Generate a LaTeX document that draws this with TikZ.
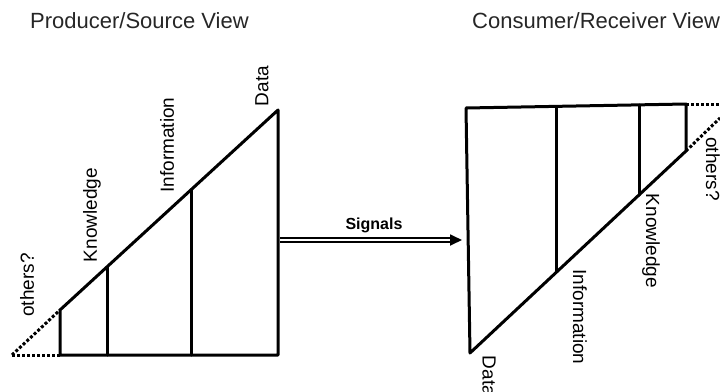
\documentclass[tikz,border=0pt]{standalone}
\usepackage{fontspec}
\setmainfont{Liberation Sans}
\usetikzlibrary{arrows.meta}
\begin{document}
\begin{tikzpicture}[x=1pt,y=-1pt,
  edge/.style={line width=3pt,line cap=round,line join=round},
  dots/.style={line width=3pt,dash pattern=on 3pt off 2pt},
  lbl/.style={inner sep=0pt,font=\fontsize{19}{21}\selectfont},
  ttl/.style={inner sep=0pt,anchor=west,text=black!85,font=\fontsize{22}{24}\selectfont}]
\useasboundingbox (0,0) rectangle (720,391);
\clip (0,0) rectangle (720,391);
% titles
\node[ttl] (t1) at (30,20.5) {Producer/Source View};
\node[ttl] (t2) at (472,20.5) {Consumer/Receiver View};
% left figure
\coordinate (lo) at (12,355);
\coordinate (lbl) at (60,355);
\coordinate (ltl) at (60,310);
\coordinate (lk) at (107,267);
\coordinate (lkb) at (107,355);
\coordinate (li) at (191,190);
\coordinate (lib) at (191,355);
\coordinate (ltr) at (278,110);
\coordinate (lbr) at (278,355);
\draw[edge] (lbl) -- (ltl) -- (ltr) -- (lbr) -- cycle;
\draw[edge] (lk) -- (lkb);
\draw[edge] (li) -- (lib);
\draw[dots] (lo) -- (lbl);
\draw[dots] (lo) -- (ltl);
% left labels
\node[lbl,rotate=90] (lo1) at (27,285) {others?};
\node[lbl,rotate=90] (lk1) at (92,215) {Knowledge};
\node[lbl,rotate=90] (li1) at (167,145) {Information};
\node[lbl,rotate=90] (ld1) at (262,86) {Data};
% right figure
\coordinate (rtl) at (466,108);
\coordinate (rbl) at (470,353);
\coordinate (rtr) at (686,104);
\coordinate (rbr) at (686,151);
\coordinate (ri) at (556,106.5);
\coordinate (rib) at (556,272);
\coordinate (rk) at (639,105);
\coordinate (rkb) at (639,195);
\coordinate (ro1) at (720,104);
\coordinate (ro2) at (720,118);
\draw[edge] (rtl) -- (rtr) -- (rbr) -- (rbl) -- cycle;
\draw[edge] (ri) -- (rib);
\draw[edge] (rk) -- (rkb);
\draw[dots] (rtr) -- (ro1);
\draw[dots] (rbr) -- (ro2);
% right labels
\node[lbl,rotate=-90] (ro3) at (713,169) {others?};
\node[lbl,rotate=-90] (rk1) at (651,241) {Knowledge};
\node[lbl,rotate=-90] (ri1) at (580,317) {Information};
\node[lbl,rotate=-90] (rd1) at (489,376) {Data};
% signals arrow
\coordinate (sa) at (280,240);
\coordinate (sb) at (462,240);
\draw[line width=1.8pt,double,double distance=2.6pt,-{Triangle[length=12pt,width=11pt]}] (sa) -- (sb);
\node[inner sep=0pt,font=\fontsize{16}{18}\selectfont\bfseries] (sig) at (374,225) {Signals};
\end{tikzpicture}
\end{document}
